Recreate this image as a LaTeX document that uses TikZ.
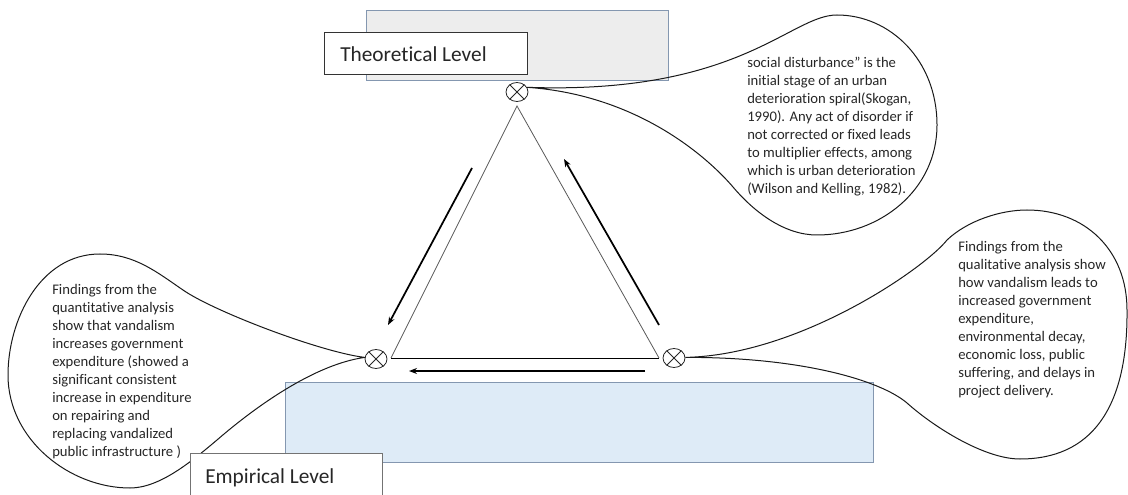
\documentclass[tikz,border=0pt]{standalone}
\usepackage{fontspec}
\setmainfont{Carlito}[Ligatures=NoCommon]
\usetikzlibrary{arrows.meta,shapes.geometric}
\definecolor{slate}{HTML}{8497B0}
\definecolor{greyfill}{HTML}{EDEDED}
\definecolor{bluefill}{HTML}{DEEBF7}
\definecolor{ink}{HTML}{262626}
\begin{document}
\begin{tikzpicture}[x=0.75pt,y=-0.75pt,
  levelbox/.style={draw=slate, line width=0.9pt, anchor=north west, inner sep=0},
  labelbox/.style={fill=white, line width=0.75pt, anchor=north west, inner sep=0},
  labeltext/.style={anchor=base west, inner sep=0, text=ink, font=\fontsize{16}{19}\selectfont},
  bubble/.style={draw=black!90, line width=0.75pt},
  bubbletext/.style={anchor=north west, inner sep=0, align=left, text=ink, font=\fontsize{11}{13.5}\selectfont},
  xcirc/.style={draw=black!85, ellipse, line width=0.6pt, minimum width=22*0.75pt, minimum height=19*0.75pt, inner sep=0},
  side/.style={draw=black!65, line width=0.6pt},
  flow/.style={draw=black, line width=1.3pt, -{Stealth[length=6pt,width=4.5pt]}}]
\useasboundingbox (0,0) rectangle (1128,495);

% level boxes
\node[levelbox, fill=greyfill, minimum width=302*0.75pt, minimum height=70*0.75pt] (theobg) at (366,10) {};
\node[levelbox, fill=bluefill, minimum width=588*0.75pt, minimum height=80*0.75pt] (empbg) at (285,382) {};

% crossed circles
\node[xcirc] (ct) at (517,92) {};
\node[xcirc] (cl) at (376,359) {};
\node[xcirc] (cr) at (674,358) {};

% callout bubbles
\draw[bubble] (ct.25) .. controls (740,95) and (790,15) .. (837,15)
  .. controls (890,15) and (937,60) .. (937,125)
  .. controls (937,190) and (880,235) .. (817,235)
  .. controls (785,235) and (755,213) .. (733,187)
  .. controls (710,160) and (640,95) .. (ct.25);
\draw[bubble] (cr.3) .. controls (800,355) and (925,268) .. (947,240)
  .. controls (967,221) and (1000,210) .. (1027,210)
  .. controls (1085,210) and (1127,250) .. (1127,310)
  .. controls (1128,410) and (1090,459) .. (1020,459)
  .. controls (985,459) and (935,428) .. (907,403)
  .. controls (880,380) and (800,357) .. (cr.3);
\draw[bubble] (cl.172) .. controls (320,352) and (213,311) .. (183,290)
  .. controls (158,273) and (135,254) .. (100,254)
  .. controls (40,254) and (8,320) .. (8,375)
  .. controls (8,440) and (70,488) .. (130,488)
  .. controls (160,488) and (192,461) .. (217,440)
  .. controls (247,414) and (310,365) .. (cl.172);

% label boxes
\node[labelbox, draw=black!80, minimum width=203*0.75pt, minimum height=42*0.75pt] (theobox) at (324,32) {};
\node[labeltext] (theotext) at (340,62) {Theoretical Level};
\node[labelbox, draw=black!55, minimum width=192*0.75pt, minimum height=60*0.75pt] (empbox) at (190,453) {};
\node[labeltext] (emptext) at (205,483) {Empirical Level};

% bubble texts
\node[bubbletext] (ttext) at (747,57) {social disturbance\char34{} is the\\initial stage of an urban\\deterioration spiral(Skogan,\\1990). Any act of disorder if\\not corrected or fixed leads\\to multiplier effects, among\\which is urban deterioration\\(Wilson and Kelling, 1982).};
\node[bubbletext] (rtext) at (958,241) {Findings from the\\qualitative analysis show\\how vandalism leads to\\increased government\\expenditure,\\environmental decay,\\economic loss, public\\suffering, and delays in\\project delivery.};
\node[bubbletext] (ltext) at (52,284) {Findings from the\\quantitative analysis\\show that vandalism\\increases government\\expenditure (showed a\\significant consistent\\increase in expenditure\\on repairing and\\replacing vandalized\\public infrastructure )};

% cross marks
\foreach \c in {ct,cl,cr}{
  \draw[black!85, line width=0.6pt] (\c.45) -- (\c.225) (\c.135) -- (\c.315);
}

% triangle
\coordinate (apex) at (517,106);
\coordinate (bl) at (391,358);
\coordinate (br) at (659,358);
\draw[side] (bl) -- (apex) -- (br);
\draw[black, line width=0.75pt] (bl) -- (br);

% flow arrows
\coordinate (a1s) at (472,168); \coordinate (a1e) at (388,325);
\coordinate (a2s) at (659,325); \coordinate (a2e) at (564,159);
\coordinate (a3s) at (645,371); \coordinate (a3e) at (409,371);
\draw[flow] (a1s) -- (a1e);
\draw[flow] (a2s) -- (a2e);
\draw[flow] (a3s) -- (a3e);
\end{tikzpicture}
\end{document}
